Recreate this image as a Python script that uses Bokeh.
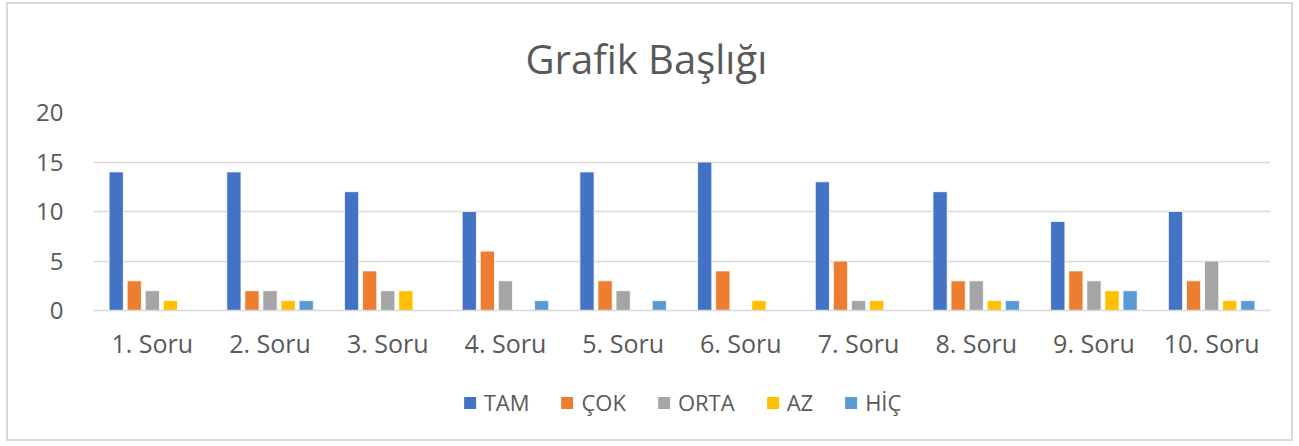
from bokeh.plotting import figure
from bokeh.layouts import column
from bokeh.models import FactorRange, Legend, LegendItem, ColumnDataSource, Range1d, FixedTicker
from bokeh.transform import dodge
from bokeh.embed import file_html
from bokeh.resources import INLINE

categories = ["1. Soru", "2. Soru", "3. Soru", "4. Soru", "5. Soru",
              "6. Soru", "7. Soru", "8. Soru", "9. Soru", "10. Soru"]
series_names = ["TAM", "ÇOK", "ORTA", "AZ", "HİÇ"]
tam = [14, 14, 12, 10, 14, 15, 13, 12, 9, 10]
cok = [3, 2, 4, 6, 3, 4, 5, 3, 4, 3]
orta = [2, 2, 2, 3, 2, 0, 1, 3, 3, 5]
az = [1, 1, 2, 0, 0, 1, 1, 1, 2, 1]
hic = [0, 1, 0, 1, 1, 0, 0, 1, 2, 1]
colors = ["#4472C4", "#ED7D31", "#A5A5A5", "#FFC000", "#5B9BD5"]
y_ticks = [0, 5, 10, 15, 20]

FONT = "Open Sans"
TXT = "#595959"

source = ColumnDataSource(dict(cat=categories, TAM=tam, COK=cok, ORTA=orta, AZ=az, HIC=hic))
keys = ["TAM", "COK", "ORTA", "AZ", "HIC"]

p = figure(width=1283, height=361, output_backend="svg", toolbar_location=None,
           x_range=FactorRange(factors=categories, range_padding=0),
           y_range=Range1d(0, 20),
           title="Grafik Başlığı",
           min_border_left=85, min_border_right=21, min_border_top=108, min_border_bottom=55)

p.title.align = "left"
p.title.vertical_align = "top"
p.title.text_font = FONT
p.title.text_font_size = "40px"
p.title.text_font_style = "normal"
p.title.text_color = TXT
p.title.offset = 432
p.title.standoff = 50

step = 0.1536
bw = 0.121
for k, key in enumerate(keys):
    p.vbar(x=dodge("cat", (k - 2) * step, range=p.x_range), top=key, width=bw,
           source=source, fill_color=colors[k], line_color="white", line_width=0.8)

p.xgrid.visible = False
p.ygrid.grid_line_color = "#d9d9d9"
p.ygrid.grid_line_width = 1.5
p.yaxis.ticker = FixedTicker(ticks=y_ticks)
p.yaxis.axis_line_color = None
p.yaxis.major_tick_line_color = None
p.yaxis.minor_tick_line_color = None
p.yaxis.major_label_text_font = FONT
p.yaxis.major_label_text_font_size = "24px"
p.yaxis.major_label_text_color = TXT
p.yaxis.major_label_standoff = 24

p.xaxis.axis_line_color = "#d9d9d9"
p.xaxis.axis_line_width = 1.5
p.xaxis.major_tick_line_color = None
p.xaxis.minor_tick_line_color = None
p.xaxis.major_label_text_font = FONT
p.xaxis.major_label_text_font_size = "25px"
p.xaxis.major_label_text_color = TXT
p.xaxis.major_label_standoff = 9
p.outline_line_color = None

# legend holder: same series, drawn outside its visible range so only the legend shows
lg = figure(width=1283, height=74, output_backend="svg", toolbar_location=None,
            x_range=FactorRange(factors=categories, range_padding=0),
            y_range=Range1d(100, 101), x_axis_type=None, y_axis_type=None,
            min_border_left=0, min_border_right=0, min_border_top=0, min_border_bottom=0)
lg.grid.visible = False
lg.outline_line_color = None
items = []
for k, key in enumerate(keys):
    r = lg.vbar(x=dodge("cat", (k - 2) * step, range=lg.x_range), top=key, width=bw,
                source=source, fill_color=colors[k], line_color=colors[k], line_width=0)
    items.append(LegendItem(label=series_names[k], renderers=[r]))

legend = Legend(items=items, orientation="horizontal", location="center",
                label_text_font=FONT, label_text_font_size="22px", label_text_color=TXT,
                glyph_width=15, glyph_height=15, spacing=30, label_standoff=7,
                border_line_color=None, background_fill_alpha=0, margin=0, padding=0)
lg.add_layout(legend, "center")

layout = column(p, lg, spacing=0)
layout.styles = {"border": "2px solid #d9d9d9", "margin": "2px 0 0 6px"}

open("out.html", "w").write(file_html(layout, INLINE))
